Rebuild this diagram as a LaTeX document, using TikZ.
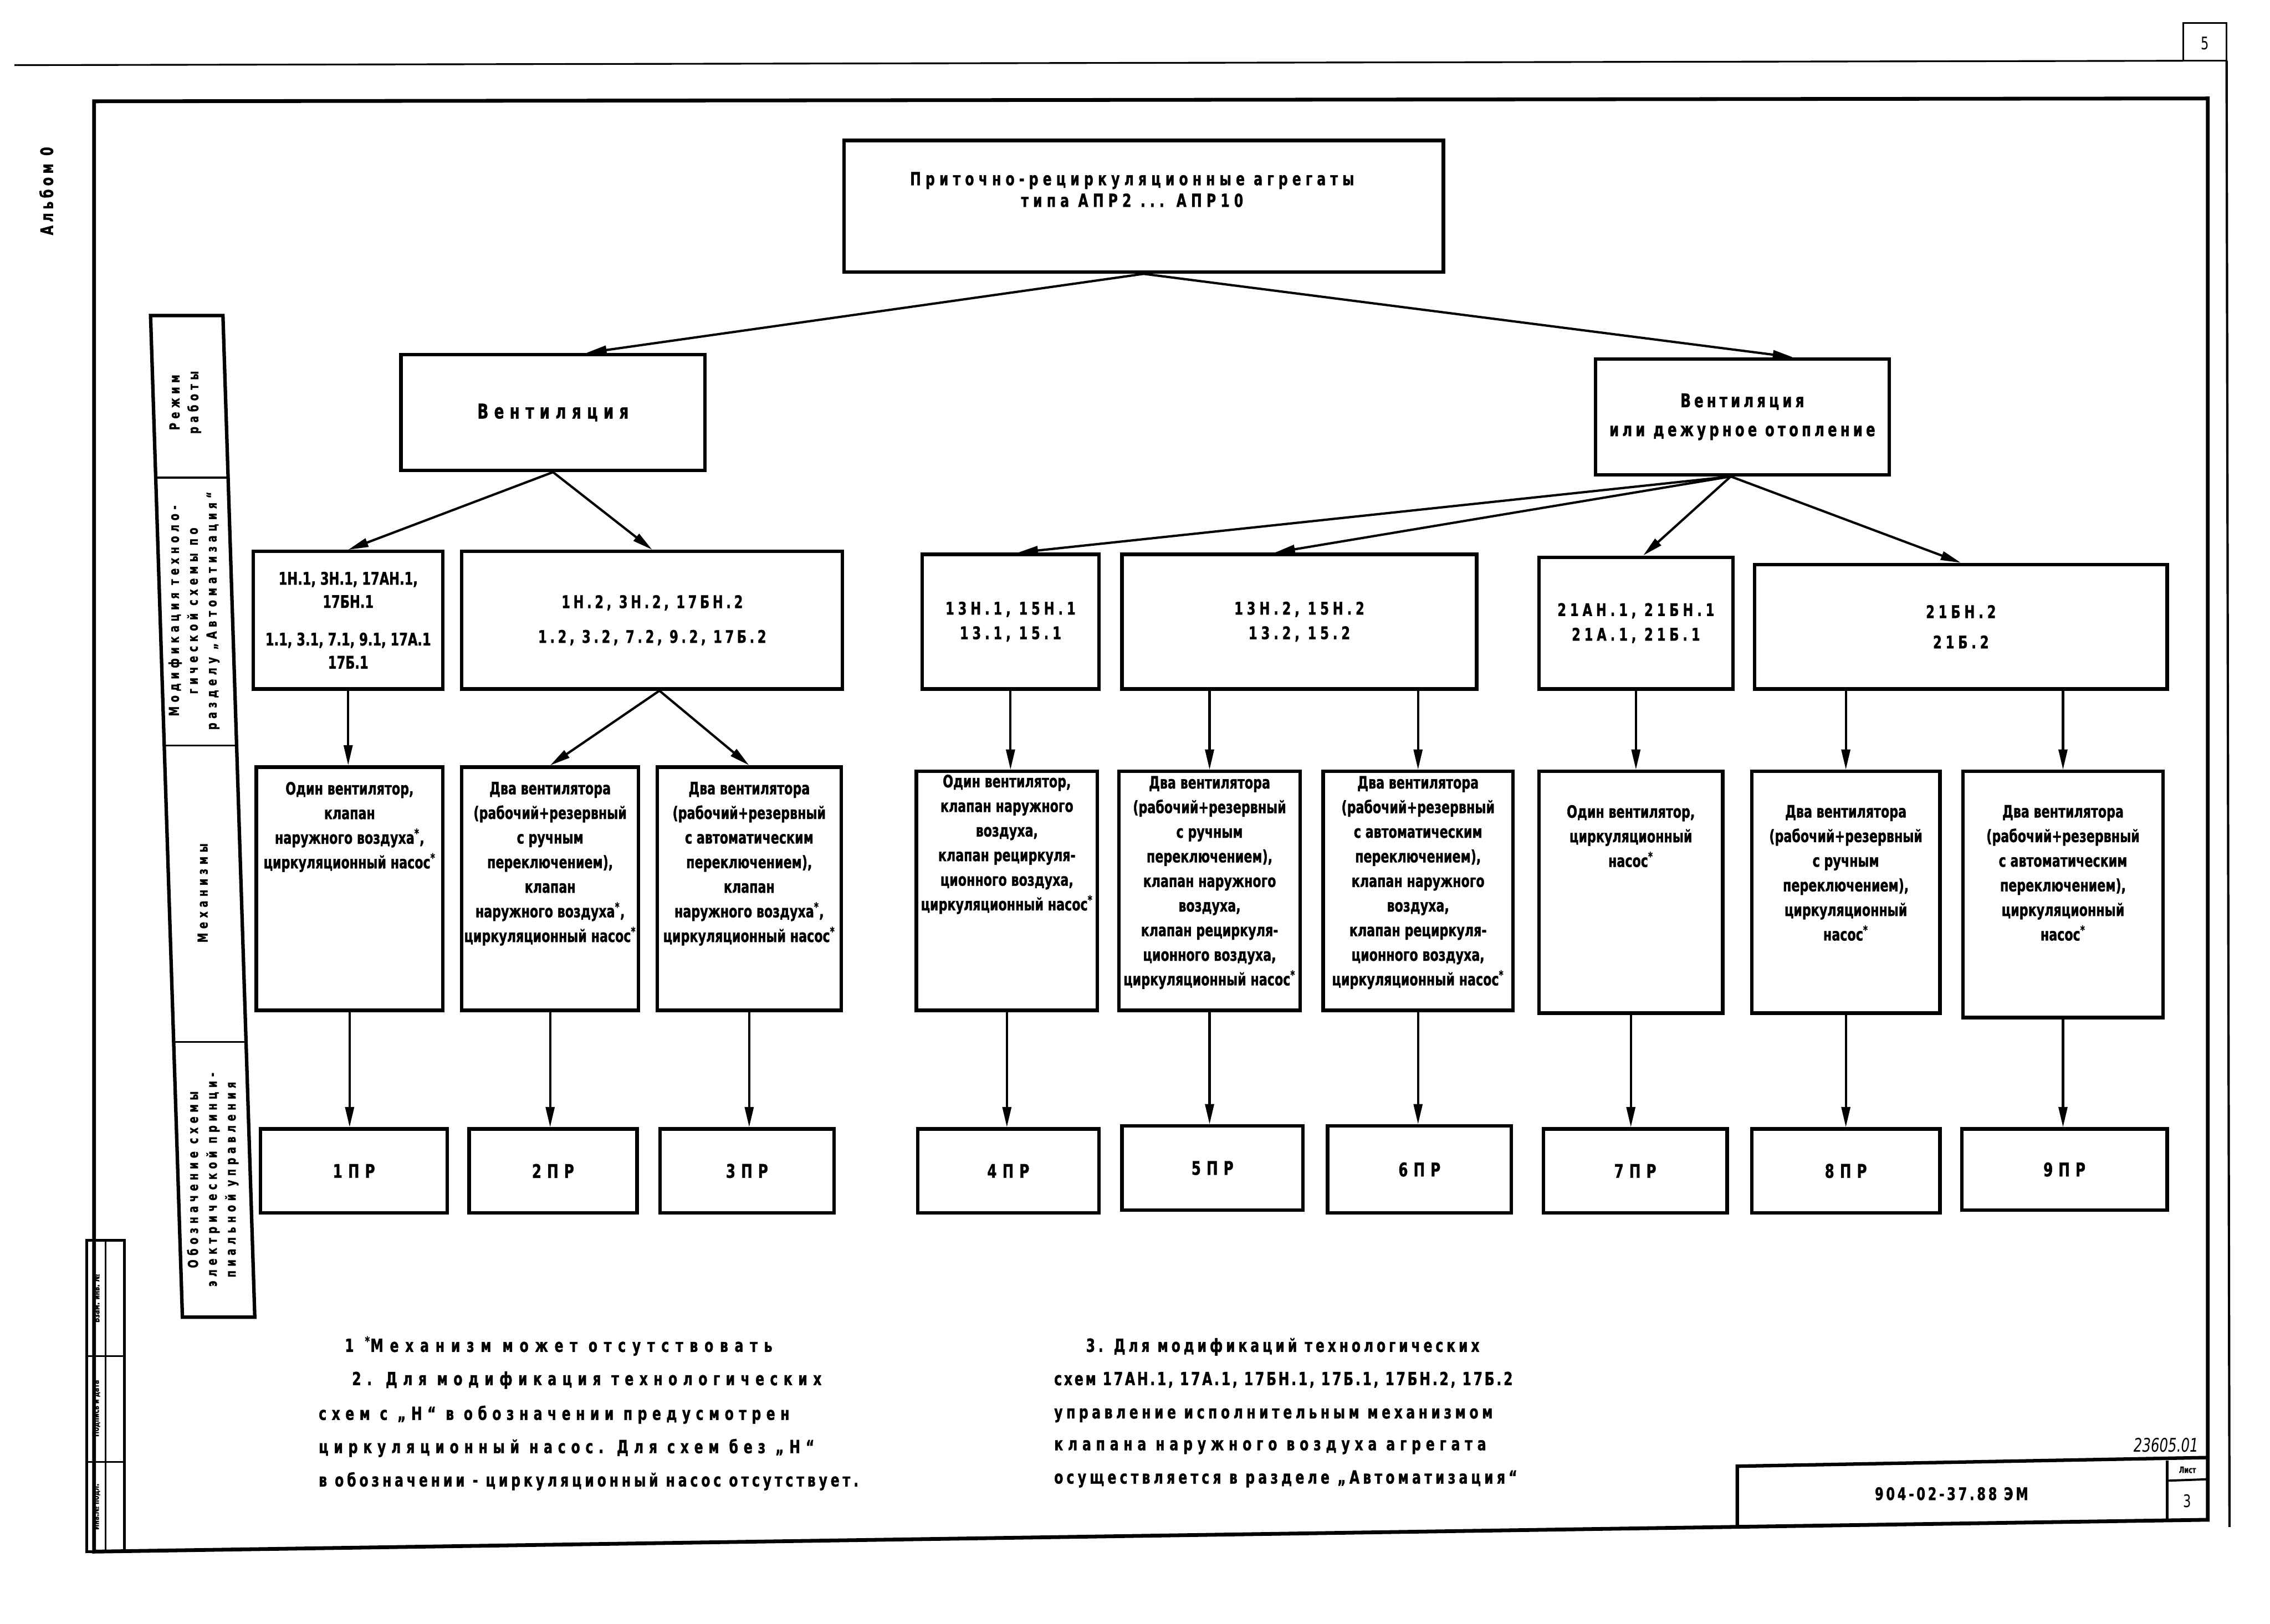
\documentclass[tikz,border=0pt]{standalone}
\usepackage{fontspec}
\setmainfont{DejaVu Sans}[FakeStretch=0.72, BoldFeatures={FakeBold=1.2}]
\usetikzlibrary{arrows.meta,calc}
\tikzset{
  bx/.style={draw, line width=2.4pt, inner sep=0pt},
  wh/.style 2 args={minimum width=#1pt, minimum height=#2pt},
  arr/.style={line width=1.6pt, -{Triangle[length=14pt,width=6pt]}},
  ttl/.style={align=center, inner sep=0pt, font=\bfseries\fontsize{12.5}{15}\selectfont\addfontfeatures{LetterSpace=25}},
  vtx/.style={align=center, font=\bfseries\fontsize{13}{20}\selectfont\addfontfeatures{LetterSpace=18}},
  vtxb/.style={align=center, font=\bfseries\fontsize{14}{20}\selectfont\addfontfeatures{LetterSpace=28}},
  lthree/.style={align=center, font=\bfseries\fontsize{12}{16}\selectfont},
  lthreeb/.style={align=center, font=\bfseries\fontsize{12}{16}\selectfont\addfontfeatures{LetterSpace=18}},
  lthreew/.style={align=center, font=\bfseries\fontsize{12}{17}\selectfont\addfontfeatures{LetterSpace=22}},
  mtext/.style={anchor=north, align=center, inner sep=0pt, font=\bfseries\fontsize{11.8}{17}\selectfont},
  ptext/.style={font=\bfseries\fontsize{13}{14}\selectfont\addfontfeatures{LetterSpace=30}},
  note/.style={anchor=base west, inner sep=0pt, font=\bfseries\fontsize{12.5}{14}\selectfont\addfontfeatures{LetterSpace=#1}},
  side/.style={rotate=90, align=center, inner sep=0pt, font=\bfseries\fontsize{9.5}{13}\selectfont\addfontfeatures{LetterSpace=30}},
  stampt/.style={rotate=90, inner sep=0pt, font=\bfseries\fontsize{6}{7}\selectfont},
}
\begin{document}
\begin{tikzpicture}[x=1pt,y=-1pt]
\useasboundingbox (0,0) rectangle (1568,1122);

% sheet frame
\draw[line width=1.2pt] (10,45) -- (1508,42);
\draw[line width=1.2pt] (1508,16) rectangle (1538,42);
\node[font=\fontsize{12}{14}\selectfont] (pg) at (1523,30) {5};
\draw[line width=1.6pt] (1538,42) -- (1540,1055);
\draw[line width=2.6pt] (65,70) -- (1525,68) -- (1525,1050) -- (65,1072) -- cycle;
\node[rotate=90, font=\bfseries\fontsize{12}{14}\selectfont\addfontfeatures{LetterSpace=20}] (alb) at (32,132) {Альбом 0};

% left stamp strip
\draw[line width=1.8pt] (60,857) rectangle (86,1072);
\draw[line width=1pt] (73,857) -- (73,1072);
\draw[line width=1pt] (60,937) -- (86,937);
\draw[line width=1pt] (60,1010) -- (86,1010);
\node[stampt] (st1) at (66.5,1041) {Инв.№ подл.};
\node[stampt] (st2) at (66.5,973) {Подпись и дата};
\node[stampt] (st3) at (66.5,897) {Взам. инв. №};

% left table
\draw[line width=2.4pt] (104,218) -- (154,218) -- (176,910) -- (126,910) -- cycle;
\draw[line width=1.2pt] (107.6,330) -- (157.6,330);
\draw[line width=1.2pt] (113.4,515) -- (163.4,515);
\draw[line width=1.2pt] (120,720) -- (170,720);
\node[side] (s1) at (128,278) {Режим\\работы};
\node[side] (s2) at (134,422) {Модификация техноло-\\гической схемы по\\разделу „Автоматизация“};
\node[side] (s3) at (140,617) {Механизмы};
\node[side] (s4) at (147,815) {Обозначение схемы\\электрической принци-\\пиальной управления};

% level 1
\node[bx,wh={414}{91}] (top) at (790,142.5) {};
\node[ttl] (topt) at (782,131) {Приточно-рециркуляционные агрегаты\\типа АПР2 ... АПР10};

% level 2
\node[bx,wh={210}{80},vtxb] (v1) at (382,285) {Вентиляция};
\node[bx,wh={203}{80},vtx] (v2) at (1203.5,288) {Вентиляция\\или дежурное отопление};

% level 3
\node[bx,wh={131}{95},lthree] (a) at (240.5,428.5) {1Н.1, 3Н.1, 17АН.1,\\17БН.1\\[10pt]1.1, 3.1, 7.1, 9.1, 17А.1\\17Б.1};
\node[bx,wh={263}{95},lthreeb] (b) at (450.5,428.5) {1Н.2, 3Н.2, 17БН.2\\[8pt]1.2, 3.2, 7.2, 9.2, 17Б.2};
\node[bx,wh={122}{93},lthreew] (c) at (698,429.5) {13Н.1, 15Н.1\\13.1, 15.1};
\node[bx,wh={245}{93},lthreew] (d) at (897.5,429.5) {13Н.2, 15Н.2\\13.2, 15.2};
\node[bx,wh={134}{91},lthreew] (e) at (1130,430.5) {21АН.1, 21БН.1\\21А.1, 21Б.1};
\node[bx,wh={285}{86},lthreew] (f) at (1354.5,433) {21БН.2\\[4pt]21Б.2};

% level 4
\node[bx,wh={129}{168}] (m1) at (241.5,614) {};
\node[bx,wh={122}{168}] (m2) at (380,614) {};
\node[bx,wh={127}{168}] (m3) at (517.5,614) {};
\node[bx,wh={125}{165}] (m4) at (695.5,615.5) {};
\node[bx,wh={125}{165}] (m5) at (835.5,615.5) {};
\node[bx,wh={131}{165}] (m6) at (979.5,615.5) {};
\node[bx,wh={127}{167}] (m7) at (1126.5,616.5) {};
\node[bx,wh={130}{167}] (m8) at (1275,616.5) {};
\node[bx,wh={138}{170}] (m9) at (1425,618) {};

\node[mtext] (m1t) at (241.5,540) {Один вентилятор,\\клапан\\наружного воздуха\textsuperscript{*},\\циркуляционный насос\textsuperscript{*}};
\node[mtext] (m2t) at (380,540) {Два вентилятора\\(рабочий+резервный\\с ручным\\переключением),\\клапан\\наружного воздуха\textsuperscript{*},\\циркуляционный насос\textsuperscript{*}};
\node[mtext] (m3t) at (517.5,540) {Два вентилятора\\(рабочий+резервный\\с автоматическим\\переключением),\\клапан\\наружного воздуха\textsuperscript{*},\\циркуляционный насос\textsuperscript{*}};
\node[mtext] (m4t) at (695.5,535) {Один вентилятор,\\клапан наружного\\воздуха,\\клапан рециркуля-\\ционного воздуха,\\циркуляционный насос\textsuperscript{*}};
\node[mtext] (m5t) at (835.5,536) {Два вентилятора\\(рабочий+резервный\\с ручным\\переключением),\\клапан наружного\\воздуха,\\клапан рециркуля-\\ционного воздуха,\\циркуляционный насос\textsuperscript{*}};
\node[mtext] (m6t) at (979.5,536) {Два вентилятора\\(рабочий+резервный\\с автоматическим\\переключением),\\клапан наружного\\воздуха,\\клапан рециркуля-\\ционного воздуха,\\циркуляционный насос\textsuperscript{*}};
\node[mtext] (m7t) at (1126.5,556) {Один вентилятор,\\циркуляционный\\насос\textsuperscript{*}};
\node[mtext] (m8t) at (1275,556) {Два вентилятора\\(рабочий+резервный\\с ручным\\переключением),\\циркуляционный\\насос\textsuperscript{*}};
\node[mtext] (m9t) at (1425,556) {Два вентилятора\\(рабочий+резервный\\с автоматическим\\переключением),\\циркуляционный\\насос\textsuperscript{*}};

% level 5
\node[bx,wh={129}{58},ptext] (p1) at (244.5,809) {1ПР};
\node[bx,wh={116}{58},ptext] (p2) at (382,809) {2ПР};
\node[bx,wh={120}{58},ptext] (p3) at (516,809) {3ПР};
\node[bx,wh={125}{58},ptext] (p4) at (696.5,809) {4ПР};
\node[bx,wh={125}{58},ptext] (p5) at (837.5,807) {5ПР};
\node[bx,wh={127}{60},ptext] (p6) at (980.5,808) {6ПР};
\node[bx,wh={127}{58},ptext] (p7) at (1129.5,809) {7ПР};
\node[bx,wh={130}{58},ptext] (p8) at (1275,809) {8ПР};
\node[bx,wh={142}{56},ptext] (p9) at (1426,808) {9ПР};

% connectors
\draw[arr] (top.south) -- ([xshift=23pt]v1.north);
\draw[arr] (top.south) -- ([xshift=35pt]v2.north);
\draw[arr] (v1.south) -- (a.north);
\draw[arr] (v1.south) -- (b.north);
\draw[arr] ([xshift=-8pt]v2.south) -- ([xshift=5pt]c.north);
\draw[arr] ([xshift=-8pt]v2.south) -- ([xshift=-17pt]d.north);
\draw[arr] ([xshift=-8pt]v2.south) -- ([xshift=5pt]e.north);
\draw[arr] ([xshift=-8pt]v2.south) -- (f.north);
\draw[arr] (a.south) -- (a.south |- m1.north);
\draw[arr] ([xshift=5pt]b.south) -- (m2.north);
\draw[arr] ([xshift=5pt]b.south) -- (m3.north);
\draw[arr] (c.south) -- (c.south |- m4.north);
\draw[arr] (d.south -| m5.north) -- (m5.north);
\draw[arr] (d.south -| m6.north) -- (m6.north);
\draw[arr] (e.south) -- (e.south |- m7.north);
\draw[arr] (f.south -| m8.north) -- (m8.north);
\draw[arr] (f.south -| m9.north) -- (m9.north);
\draw[arr] (m1.south) -- (m1.south |- p1.north);
\draw[arr] (m2.south) -- (m2.south |- p2.north);
\draw[arr] (m3.south) -- (m3.south |- p3.north);
\draw[arr] (m4.south) -- (m4.south |- p4.north);
\draw[arr] (m5.south) -- (m5.south |- p5.north);
\draw[arr] (m6.south) -- (m6.south |- p6.north);
\draw[arr] (m7.south) -- (m7.south |- p7.north);
\draw[arr] (m8.south) -- (m8.south |- p8.north);
\draw[arr] (m9.south) -- (m9.south |- p9.north);

% notes
\node[note=36] (n1) at (238,934) {1 \textsuperscript{*}Механизм может отсутствовать};
\node[note=32] (n2) at (243,957) {2. Для модификация технологических};
\node[note=29] (n3) at (220,981) {схем с „Н“ в обозначении предусмотрен};
\node[note=30] (n4) at (220,1004) {циркуляционный насос. Для схем без „Н“};
\node[note=18] (n5) at (220,1027) {в обозначении - циркуляционный насос отсутствует.};
\node[note=18] (r1) at (750,934) {3. Для модификаций технологических};
\node[note=11.5] (r2) at (728,957) {схем 17АН.1, 17А.1, 17БН.1, 17Б.1, 17БН.2, 17Б.2};
\node[note=20] (r3) at (728,980) {управление исполнительным механизмом};
\node[note=27] (r4) at (728,1002) {клапана наружного воздуха агрегата};
\node[note=19] (r5) at (728,1025) {осуществляется в разделе „Автоматизация“};

% title block
\draw[line width=2.4pt] (1200,1055) -- (1200,1013) -- (1525,1007);
\draw[line width=1.8pt] (1497,1009) -- (1497,1050);
\draw[line width=1.5pt] (1497,1023) -- (1525,1022);
\node[font=\bfseries\fontsize{12}{14}\selectfont\addfontfeatures{LetterSpace=15}] (tbm) at (1348,1032) {904-02-37.88 ЭМ};
\node[inner sep=0pt, font=\bfseries\fontsize{6}{7}\selectfont] (tbl) at (1511,1015.5) {Лист};
\node[font=\fontsize{12}{14}\selectfont] (tbn) at (1511,1037) {3};
\node[anchor=base east, font=\itshape\fontsize{13}{15}\selectfont] (inv) at (1522,1003) {23605.01};
\end{tikzpicture}
\end{document}
